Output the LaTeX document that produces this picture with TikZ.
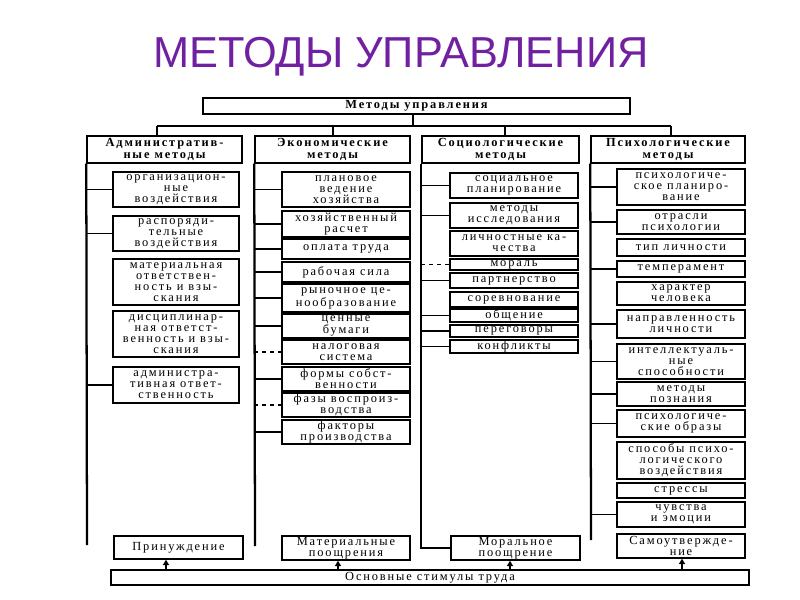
\documentclass[tikz,border=0pt]{standalone}
\usepackage{fontspec}
\setmainfont{Liberation Serif}[LetterSpace=15]
\newfontfamily\titlefont{Liberation Sans}
\usetikzlibrary{arrows.meta}
\definecolor{ttl}{RGB}{112,32,160}
\tikzset{
 bx/.style={draw, line width=1.1pt, align=center, inner sep=0pt, font=\fontsize{9.3}{8.3}\selectfont},
 hd/.style={bx, font=\bfseries\fontsize{9.3}{8.4}\selectfont},
 ln/.style={line width=1.1pt},
 spine/.style={line width=1.7pt},
 arr/.style={line width=1pt,-{Triangle[length=4pt,width=4.5pt]}},
}
\newcommand\bx[7][bx]{\node[#1, minimum width={(#5-#3)*0.75pt}, minimum height={(#6-#4)*0.75pt}] (#2) at ({(#3+#5)/2},{(#4+#6)/2}) {#7};}
\begin{document}
\begin{tikzpicture}[x=0.75pt,y=-0.75pt]
\useasboundingbox (0,0) rectangle (800,600);
\node[font=\titlefont\fontsize{32.5}{32.5}\selectfont, text=ttl] (title) at (401,57) {МЕТОДЫ УПРАВЛЕНИЯ};
% top
\bx[hd]{top}{203}{98}{630}{114}{Методы управления}
\bx[hd]{h1}{87}{136}{242}{163}{Административ-\\ные методы}
\bx[hd]{h2}{255}{136}{410}{163}{Экономические\\методы}
\bx[hd]{h3}{422}{136}{579}{163}{Социологические\\методы}
\bx[hd]{h4}{591}{136}{745}{163}{Психологические\\методы}
\coordinate (j) at (413,126);
\coordinate (d1) at (157,126);
\coordinate (d2) at (333,126);
\coordinate (d3) at (505,126);
\coordinate (d4) at (671,126);
\draw[ln] (top.south -| j) -- (j);
\draw[ln] (d1) -- (d4);
\foreach \i in {1,2,3,4} {\draw[ln] (d\i) -- (d\i |- h\i.north);}
% column 1
\bx{a1}{113}{172}{239}{207}{организацион-\\ные\\воздействия}
\bx{a2}{113}{216}{239}{251}{распоряди-\\тельные\\воздействия}
\bx{a3}{113}{259}{239}{305}{материальная\\ответствен-\\ность и взы-\\скания}
\bx{a4}{113}{311}{239}{357}{дисциплинар-\\ная ответст-\\венность и взы-\\скания}
\bx{a5}{113}{367}{239}{403}{администра-\\тивная ответ-\\ственность}
% column 2
\bx{b1}{282}{172}{410}{207}{плановое\\ведение\\хозяйства}
\bx{b2}{282}{211}{410}{237}{хозяйственный\\расчет}
\bx{b3}{282}{239}{410}{259}{оплата труда}
\bx{b4}{282}{262}{410}{282}{рабочая сила}
\bx{b5}{282}{284}{410}{312}{рыночное це-\\нообразование}
\bx{b6}{282}{314}{410}{338}{ценные\\бумаги}
\bx{b7}{282}{340}{410}{364}{налоговая\\система}
\bx{b8}{282}{367}{410}{391}{формы собст-\\венности}
\bx{b9}{282}{393}{410}{417}{фазы воспроиз-\\водства}
\bx{b10}{282}{420}{410}{444}{факторы\\производства}
% column 3
\bx{c1}{450}{173}{578}{198}{социальное\\планирование}
\bx{c2}{450}{203}{578}{228}{методы\\исследования}
\bx{c3}{450}{231}{578}{256}{личностные ка-\\чества}
\bx{c4}{450}{259}{578}{270}{мораль}
\bx{c5}{450}{273}{578}{288}{партнерство}
\bx{c6}{450}{292}{578}{307}{соревнование}
\bx{c7}{450}{309}{578}{322}{общение}
\bx{c8}{450}{325}{578}{337}{переговоры}
\bx{c9}{450}{340}{578}{353}{конфликты}
% column 4
\bx{e1}{617}{169}{745}{205}{психологиче-\\ское планиро-\\вание}
\bx{e2}{617}{210}{745}{234}{отрасли\\психологии}
\bx{e3}{617}{239}{745}{256}{тип личности}
\bx{e4}{617}{261}{745}{277}{темперамент}
\bx{e5}{617}{282}{745}{305}{характер\\человека}
\bx{e6}{617}{310}{745}{338}{направленность\\личности}
\bx{e7}{617}{344}{745}{379}{интеллектуаль-\\ные\\способности}
\bx{e8}{617}{382}{745}{406}{методы\\познания}
\bx{e9}{617}{410}{745}{437}{психологиче-\\ские образы}
\bx{e10}{617}{442}{745}{479}{способы психо-\\логического\\воздействия}
\bx{e11}{617}{483}{745}{498}{стрессы}
\bx{e12}{617}{502}{745}{527}{чувства\\и эмоции}
% stimuli
\bx{p1}{114}{536}{243}{559}{Принуждение}
\bx{p2}{282}{536}{410}{560}{Материальные\\поощрения}
\bx{p3}{451}{536}{580}{560}{Моральное\\поощрение}
\bx{p4}{617}{534}{745}{558}{Самоутвержде-\\ние}
\bx{base}{111}{570}{749}{585}{Основные стимулы труда}
% spines
\coordinate (s1) at (87,545);
\coordinate (s2) at (255,546);
\coordinate (s4) at (591,540);
\draw[spine] (h1.south west) -- (s1);
\draw[spine] (h2.south west) -- (s2);
\draw[spine] (h3.south west) |- (p3.west);
\draw[spine] (h4.south west) -- (s4);
% branches column 1
\foreach \n in {a1,a2,a5} {\draw[ln] (h1.south west |- \n.west) -- (\n.west);}
% branches column 2
\foreach \n in {b1,b2,b3,b4,b5,b6,b8,b10} {\draw[ln] (h2.south west |- \n.west) -- (\n.west);}
\foreach \n in {b7,b9} {\draw[ln,dashed] (h2.south west |- \n.west) -- (\n.west);}
% branches column 3
\foreach \n in {c1,c2,c5,c7,c8,c9} {\draw[ln] (h3.south west |- \n.west) -- (\n.west);}
\draw[ln,dashed] (h3.south west |- c4.west) -- (c4.west);
% branches column 4
\foreach \n in {e1,e2,e4,e6,e7,e8,e9,e12} {\draw[ln] (h4.south west |- \n.west) -- (\n.west);}
% arrows
\coordinate (q1) at (166,570);
\coordinate (q2) at (338,570);
\coordinate (q3) at (510,570);
\coordinate (q4) at (682,570);
\foreach \i in {1,2,3,4} {\draw[arr] (q\i) -- (q\i |- p\i.south);}
\end{tikzpicture}
\end{document}
